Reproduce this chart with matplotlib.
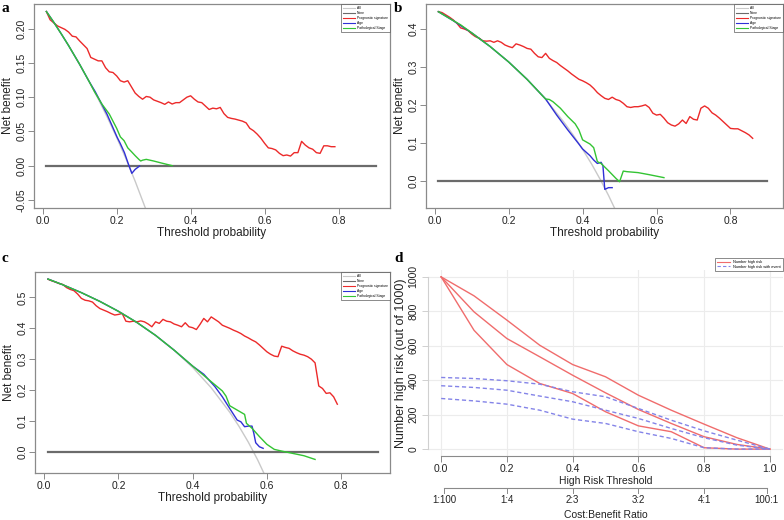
import matplotlib
matplotlib.use('Agg')
import matplotlib.pyplot as plt
import numpy as np
from matplotlib.lines import Line2D

plt.rcParams['font.family'] = ['Liberation Sans', 'DejaVu Sans']

# ---------------- Panel a ----------------
a_red_t = [0.01, 0.02, 0.04, 0.06, 0.07, 0.08, 0.09, 0.10, 0.12, 0.13,
           0.15, 0.16, 0.17, 0.18, 0.19, 0.20, 0.21, 0.22, 0.23, 0.24, 0.25, 0.26, 0.27, 0.28, 0.29,
           0.30, 0.31, 0.32, 0.33, 0.34, 0.35, 0.36, 0.37, 0.38, 0.39, 0.40, 0.41, 0.42, 0.43, 0.44,
           0.45, 0.46, 0.47, 0.48, 0.49, 0.50, 0.51, 0.52, 0.53, 0.54, 0.55, 0.56, 0.57, 0.58, 0.59,
           0.60, 0.61, 0.62, 0.63, 0.64, 0.65, 0.66, 0.67, 0.68, 0.69, 0.70, 0.71, 0.72, 0.73, 0.74,
           0.75, 0.76, 0.77, 0.78, 0.79]
a_red_v = [0.225, 0.213, 0.204, 0.199, 0.195, 0.189, 0.188, 0.182, 0.171, 0.158,
           0.153, 0.153, 0.143, 0.137, 0.136, 0.131, 0.124, 0.122, 0.124, 0.115, 0.106, 0.101, 0.097, 0.101, 0.100,
           0.096, 0.094, 0.092, 0.0895, 0.093, 0.090, 0.092, 0.092, 0.096, 0.100, 0.102, 0.097, 0.093, 0.092, 0.087,
           0.082, 0.084, 0.083, 0.085, 0.076, 0.0705, 0.069, 0.068, 0.0665, 0.065, 0.0625, 0.0545, 0.051, 0.046, 0.040,
           0.0326, 0.026, 0.025, 0.023, 0.018, 0.0146, 0.0156, 0.014, 0.019, 0.019, 0.0355, 0.030, 0.026, 0.024, 0.019,
           0.018, 0.029, 0.029, 0.0277, 0.0277]
a_all_t = [0.01, 0.03, 0.05, 0.07, 0.10, 0.125, 0.15, 0.175, 0.20, 0.225, 0.25, 0.28]
a_all_v = [0.225, 0.2093, 0.1926, 0.1753, 0.1478, 0.1234, 0.0976, 0.0703, 0.0412, 0.0103, -0.0227, -0.0653]
a_green_t = [0.01, 0.03, 0.05, 0.07, 0.10, 0.125, 0.14, 0.16, 0.18, 0.20, 0.21, 0.22, 0.23, 0.24, 0.25,
             0.26, 0.265, 0.27, 0.28, 0.30, 0.32, 0.35]
a_green_v = [0.225, 0.2093, 0.1926, 0.1753, 0.1478, 0.1234, 0.108, 0.090, 0.0754, 0.0545, 0.042, 0.0365,
             0.026, 0.0204, 0.0146, 0.0092, 0.0068, 0.008, 0.0092, 0.0068, 0.004, 0.0]
a_blue_t = [0.01, 0.03, 0.05, 0.07, 0.10, 0.125, 0.142, 0.174, 0.201, 0.21, 0.221, 0.231, 0.241, 0.25, 0.262]
a_blue_v = [0.225, 0.2093, 0.1926, 0.1753, 0.1478, 0.1234, 0.108, 0.075, 0.0418, 0.0321, 0.019, 0.0034,
            -0.0112, -0.0054, -0.0005]

# ---------------- Panel b ----------------
b_red_t = np.round(np.arange(1, 87) / 100, 2)
b_red_v = [0.4446, 0.442, 0.436, 0.430, 0.423, 0.414, 0.402, 0.399, 0.395, 0.386,
           0.379, 0.375, 0.368, 0.367, 0.368, 0.364, 0.368, 0.364, 0.357, 0.353,
           0.350, 0.360, 0.357, 0.353, 0.348, 0.346, 0.335, 0.326, 0.324, 0.335,
           0.322, 0.316, 0.311, 0.303, 0.296, 0.289, 0.281, 0.274, 0.267, 0.263,
           0.258, 0.252, 0.243, 0.232, 0.224, 0.217, 0.214, 0.220, 0.214, 0.211,
           0.204, 0.195, 0.193, 0.195, 0.195, 0.197, 0.200, 0.193, 0.178, 0.173,
           0.175, 0.165, 0.153, 0.147, 0.144, 0.150, 0.160, 0.151, 0.169, 0.162,
           0.160, 0.191, 0.197, 0.191, 0.179, 0.173, 0.165, 0.156, 0.147, 0.138,
           0.137, 0.137, 0.132, 0.127, 0.121, 0.112]
b_all_t = [0.01, 0.05, 0.10, 0.15, 0.20, 0.25, 0.30, 0.35, 0.375, 0.40, 0.425, 0.45, 0.47, 0.49]
b_all_v = [0.4444, 0.4211, 0.3889, 0.3529, 0.3125, 0.2667, 0.2143, 0.1538, 0.12, 0.0833, 0.0435, 0.0,
           -0.0377, -0.0784]
b_green_t = [0.01, 0.05, 0.07, 0.10, 0.15, 0.20, 0.25, 0.30, 0.31, 0.32, 0.34, 0.36, 0.38, 0.39, 0.40,
             0.42, 0.43, 0.44, 0.45, 0.47, 0.49, 0.50, 0.51, 0.52, 0.55, 0.58, 0.62]
b_green_v = [0.4444, 0.4211, 0.410, 0.3889, 0.3529, 0.3125, 0.2667, 0.2153, 0.214, 0.208, 0.191, 0.169,
             0.150, 0.134, 0.108, 0.097, 0.0875, 0.0508, 0.046, 0.027, 0.007, -0.002, 0.026, 0.0245,
             0.022, 0.0166, 0.0088]
b_blue_t = [0.01, 0.05, 0.10, 0.15, 0.20, 0.25, 0.30, 0.33, 0.36, 0.39, 0.40, 0.42, 0.43, 0.44, 0.45,
            0.455, 0.46, 0.47, 0.48]
b_blue_v = [0.4444, 0.4211, 0.3889, 0.3529, 0.3125, 0.2667, 0.2153, 0.173, 0.134, 0.097, 0.084, 0.0665,
            0.055, 0.046, 0.049, 0.040, -0.022, -0.0175, -0.0175]

# ---------------- Panel c ----------------
c_red_t = np.round(np.arange(1, 80) / 100, 2)
c_red_v = [0.559, 0.554, 0.550, 0.545, 0.542, 0.532, 0.526, 0.522, 0.511, 0.497,
           0.491, 0.489, 0.485, 0.473, 0.464, 0.459, 0.454, 0.448, 0.443, 0.445,
           0.448, 0.423, 0.421, 0.423, 0.421, 0.424, 0.421, 0.414, 0.405, 0.421,
           0.416, 0.429, 0.423, 0.421, 0.414, 0.410, 0.405, 0.418, 0.405, 0.402,
           0.396, 0.413, 0.432, 0.421, 0.437, 0.429, 0.421, 0.410, 0.405, 0.400,
           0.394, 0.389, 0.383, 0.375, 0.369, 0.362, 0.356, 0.346, 0.335, 0.324,
           0.316, 0.310, 0.308, 0.342, 0.338, 0.335, 0.327, 0.321, 0.316, 0.313,
           0.308, 0.300, 0.288, 0.213, 0.205, 0.189, 0.191, 0.178, 0.154]
c_all_t = [0.01, 0.05, 0.10, 0.15, 0.20, 0.25, 0.30, 0.35, 0.40, 0.45, 0.50, 0.525, 0.55, 0.575, 0.60]
c_all_v = [0.5596, 0.5411, 0.5156, 0.4871, 0.455, 0.4187, 0.3771, 0.3292, 0.2733, 0.2073, 0.128, 0.0821,
           0.0311, -0.0259, -0.09]
c_green_t = [0.01, 0.05, 0.10, 0.15, 0.20, 0.25, 0.30, 0.35, 0.40, 0.45, 0.48, 0.49, 0.50, 0.52, 0.54,
             0.545, 0.56, 0.58, 0.60, 0.62, 0.64, 0.66, 0.70, 0.73]
c_green_v = [0.5596, 0.5411, 0.5156, 0.4871, 0.455, 0.4187, 0.3771, 0.3292, 0.2775, 0.227, 0.197, 0.180,
             0.149, 0.135, 0.121, 0.092, 0.076, 0.049, 0.024, 0.0076, 0.002, -0.003, -0.013, -0.025]
c_blue_t = [0.01, 0.05, 0.10, 0.15, 0.20, 0.25, 0.30, 0.35, 0.40, 0.43, 0.46, 0.48, 0.50, 0.52, 0.53,
            0.54, 0.55, 0.56, 0.565, 0.57, 0.58, 0.59]
c_blue_v = [0.5596, 0.5411, 0.5156, 0.4871, 0.455, 0.4187, 0.3771, 0.3292, 0.2775, 0.251, 0.211, 0.178,
            0.140, 0.1026, 0.097, 0.081, 0.083, 0.083, 0.059, 0.029, 0.016, 0.011]

none_t = [0.01, 0.90]
none_v = [0.0, 0.0]

legend_labels = ['All', 'None', 'Prognostic signature', 'Age', 'Pathological Stage']

# ---------------- Panel d ----------------
d_thr = [0.0, 0.1, 0.2, 0.3, 0.4, 0.5, 0.6, 0.7, 0.8, 0.9, 1.0]
d_risk1 = [1000, 890, 749, 603, 491, 420, 313, 226, 145, 66, 0]
d_risk2 = [1000, 797, 642, 536, 429, 327, 230, 149, 72, 27, 0]
d_risk3 = [1000, 690, 491, 381, 323, 217, 135, 101, 8, 0, 0]
d_event1 = [416, 410, 397, 377, 333, 304, 236, 168, 106, 52, 0]
d_event2 = [368, 358, 342, 308, 275, 226, 178, 120, 66, 23, 0]
d_event3 = [294, 280, 261, 226, 174, 149, 101, 62, 8, 0, 0]
cb_labels = ['1:100', '1:4', '2:3', '3:2', '4:1', '100:1']

C_ALL = '#c9c9c9'
C_NONE = '#6b6b6b'
C_RED = '#ec2a2a'
C_BLUE = '#3030d6'
C_GREEN = '#33c433'
C_FRAME = '#8a8a8a'
C_TXT = '#222222'

W, H = 784, 520
fig = plt.figure(figsize=(W / 100, H / 100), dpi=100)


def fpos(l, r, t, b):
    return [l / W, 1 - b / H, (r - l) / W, (b - t) / H]


def dca_panel(ax, all_t, all_v, red_t, red_v, blue_t, blue_v, green_t, green_v,
              xlim, ylim, yticks, yfmt):
    ax.plot(all_t, all_v, color=C_ALL, lw=1.0)
    ax.plot(none_t, none_v, color=C_NONE, lw=1.6)
    ax.plot(red_t, red_v, color=C_RED, lw=1.0)
    ax.plot(blue_t, blue_v, color=C_BLUE, lw=1.0)
    ax.plot(green_t, green_v, color=C_GREEN, lw=1.0)
    ax.set_xlim(*xlim)
    ax.set_ylim(*ylim)
    ax.set_xticks([0.0, 0.2, 0.4, 0.6, 0.8])
    ax.set_xticklabels(['0.0', '0.2', '0.4', '0.6', '0.8'])
    ax.set_yticks(yticks)
    ax.set_yticklabels([yfmt % v for v in yticks])
    for s in ax.spines.values():
        s.set_color(C_FRAME)
        s.set_linewidth(0.9)
    ax.tick_params(axis='both', length=4, width=0.7, color=C_FRAME, labelsize=7.5,
                   labelcolor=C_TXT, pad=1.5)
    ax.tick_params(axis='y', labelrotation=90)
    for lab in ax.get_yticklabels():
        lab.set_va('center')
    ax.set_xlabel('Threshold probability', fontsize=8.5, color=C_TXT, labelpad=1.0)
    ax.set_ylabel('Net benefit', fontsize=8.5, color=C_TXT, labelpad=1.5)
    handles = [Line2D([], [], color=c, lw=0.8) for c in (C_ALL, C_NONE, C_RED, C_BLUE, C_GREEN)]
    leg = ax.legend(handles, legend_labels, loc='upper right', fontsize=2.4, frameon=True,
                    fancybox=False, borderaxespad=0.1, borderpad=0.5, labelspacing=0.3,
                    handlelength=3.6, handletextpad=0.6)
    leg.get_frame().set_edgecolor('#555555')
    leg.get_frame().set_linewidth(0.6)


ax_a = fig.add_axes(fpos(34, 390, 4, 208))
dca_panel(ax_a, a_all_t, a_all_v, a_red_t, a_red_v, a_blue_t, a_blue_v, a_green_t, a_green_v,
          (-0.0235, 0.939), (-0.0618, 0.236), [-0.05, 0.0, 0.05, 0.10, 0.15, 0.20], '%.2f')

ax_b = fig.add_axes(fpos(426, 783, 4, 208))
dca_panel(ax_b, b_all_t, b_all_v, b_red_t, b_red_v, b_blue_t, b_blue_v, b_green_t, b_green_v,
          (-0.0235, 0.942), (-0.0709, 0.4646), [0.0, 0.1, 0.2, 0.3, 0.4], '%.1f')

ax_c = fig.add_axes(fpos(35, 390, 272, 473))
dca_panel(ax_c, c_all_t, c_all_v, c_red_t, c_red_v, c_blue_t, c_blue_v, c_green_t, c_green_v,
          (-0.025, 0.932), (-0.069, 0.5825), [0.0, 0.1, 0.2, 0.3, 0.4, 0.5], '%.1f')

# ---------------- Panel d ----------------
ax_d = fig.add_axes(fpos(428, 783, 270, 456))
ax_d.set_xlim(-0.04, 1.04)
ax_d.set_ylim(-40, 1040)
ax_d.set_xticks([0.0, 0.2, 0.4, 0.6, 0.8, 1.0])
ax_d.set_yticks([0, 200, 400, 600, 800, 1000])
ax_d.grid(True, color='#ececec', lw=0.8)
ax_d.set_axisbelow(True)
C_DRED = '#f06c6c'
C_DBLUE = '#8484e8'
for r in (d_risk1, d_risk2, d_risk3):
    ax_d.plot(d_thr, r, color=C_DRED, lw=1.0)
for e in (d_event1, d_event2, d_event3):
    ax_d.plot(d_thr, e, color=C_DBLUE, lw=1.0, ls=(0, (3, 2)))
for side in ('top', 'right'):
    ax_d.spines[side].set_visible(False)
ax_d.spines['bottom'].set_bounds(0, 1)
ax_d.spines['bottom'].set_color(C_FRAME)
ax_d.spines['left'].set_bounds(0, 1000)
ax_d.spines['left'].set_color('#d0d0d0')
ax_d.tick_params(axis='both', length=4, width=0.7, color=C_FRAME, labelsize=7.5,
                 labelcolor=C_TXT, pad=2)
ax_d.tick_params(axis='y', labelrotation=90, color='#d0d0d0', pad=3)
for lab in ax_d.get_yticklabels():
    lab.set_va('center')
ax_d.set_xlabel('High Risk Threshold', fontsize=7.5, color=C_TXT, labelpad=1.5)
ax_d.set_ylabel('Number high risk (out of 1000)', fontsize=9, color=C_TXT, labelpad=1)

# cost:benefit axis
tr = ax_d.get_xaxis_transform()
cb_pos = [1 / 101, 0.2, 0.4, 0.6, 0.8, 100 / 101]
y_line = (456 - 488.3) / 186
y_tick = (456 - 492.5) / 186
ax_d.add_line(Line2D([cb_pos[0], cb_pos[-1]], [y_line, y_line], transform=tr, color=C_FRAME,
                     lw=0.8, clip_on=False))
for p, lab in zip(cb_pos, cb_labels):
    ax_d.add_line(Line2D([p, p], [y_line, y_tick], transform=tr, color=C_FRAME, lw=0.7, clip_on=False))
    ax_d.text(p, (456 - 500) / 186, lab, transform=tr, ha='center', va='center', fontsize=7,
              color=C_TXT, clip_on=False)
ax_d.text(0.5, (456 - 515) / 186, 'Cost:Benefit Ratio', transform=tr, ha='center', va='center',
          fontsize=7.5, color=C_TXT, clip_on=False)

dh = [Line2D([], [], color=C_DRED, lw=0.8), Line2D([], [], color=C_DBLUE, lw=0.8, ls=(0, (3, 2)))]
leg = fig.legend(dh, ['Number high risk', 'Number high risk with event'], loc='upper right',
                 bbox_to_anchor=(783 / W, 1 - 258 / H), fontsize=2.8, frameon=True, fancybox=False,
                 borderaxespad=0, borderpad=0.5, labelspacing=0.2, handlelength=3.5, handletextpad=0.8)
leg.get_frame().set_edgecolor('#555555')
leg.get_frame().set_linewidth(0.6)

# panel letters
for x, y, s in ((1, 9, 'a'), (394, 8, 'b'), (1, 258, 'c'), (394, 258, 'd')):
    fig.text(x / W, 1 - y / H, s, ha='left', va='center', fontsize=11, fontweight='bold',
             family=['Liberation Serif', 'DejaVu Serif'])

fig.savefig('out.png', dpi=100)
